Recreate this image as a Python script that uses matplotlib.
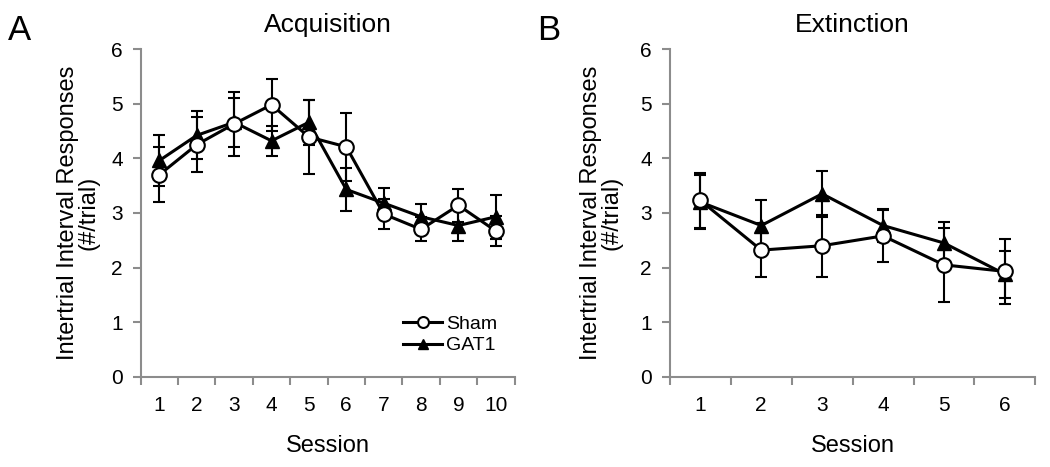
import numpy as np
import matplotlib.pyplot as plt

plt.rcParams['font.family'] = ['Liberation Sans', 'DejaVu Sans']

# Acquisition data
acq_sessions = [1, 2, 3, 4, 5, 6, 7, 8, 9, 10]
acq_sham = [3.70, 4.25, 4.63, 4.98, 4.39, 4.21, 2.98, 2.70, 3.14, 2.67]
acq_sham_err = [0.50, 0.50, 0.58, 0.48, 0.67, 0.62, 0.28, 0.22, 0.30, 0.28]
acq_gat1 = [3.96, 4.42, 4.66, 4.32, 4.66, 3.43, 3.18, 2.93, 2.77, 2.93]
acq_gat1_err = [0.47, 0.44, 0.45, 0.27, 0.41, 0.40, 0.28, 0.23, 0.28, 0.40]

# Extinction data
ext_sessions = [1, 2, 3, 4, 5, 6]
ext_sham = [3.23, 2.32, 2.40, 2.58, 2.05, 1.93]
ext_sham_err = [0.50, 0.49, 0.57, 0.48, 0.68, 0.60]
ext_gat1 = [3.20, 2.77, 3.35, 2.77, 2.45, 1.88]
ext_gat1_err = [0.50, 0.47, 0.42, 0.30, 0.39, 0.43]

GRAY = '#8c8c8c'


def draw_panel(ax, sessions, sham, sham_err, gat1, gat1_err, title, ylab_x):
    x = np.arange(len(sessions))
    g = ax.errorbar(x, gat1, yerr=gat1_err, color='black', lw=2.2, marker='^',
                    ms=10.5, mfc='black', mec='black', capsize=4, capthick=1.5,
                    elinewidth=1.5, label='GAT1', zorder=3)
    s = ax.errorbar(x, sham, yerr=sham_err, color='black', lw=2.2, marker='o',
                    ms=10.5, mfc='white', mec='black', mew=1.5, capsize=4,
                    capthick=1.5, elinewidth=1.5, label='Sham', zorder=4)
    ax.set_xlim(-0.5, len(sessions) - 0.5)
    ax.set_ylim(0, 6)
    ax.set_yticks(range(0, 7))
    ax.set_xticks(x)
    ax.set_xticklabels([str(v) for v in sessions])
    ax.set_xticks(np.arange(len(sessions) + 1) - 0.5, minor=True)
    ax.tick_params(axis='x', which='major', length=0, pad=14, labelsize=15)
    ax.tick_params(axis='x', which='minor', length=6, width=1.5,
                   color=GRAY, direction='out')
    ax.tick_params(axis='y', length=6, width=1.5, color=GRAY,
                   direction='out', labelsize=15, pad=7)
    for side in ['top', 'right']:
        ax.spines[side].set_visible(False)
    for side in ['left', 'bottom']:
        ax.spines[side].set_color(GRAY)
        ax.spines[side].set_linewidth(1.5)
    ax.set_title(title, fontsize=19, pad=12)
    ax.set_xlabel('Session', fontsize=17, labelpad=14)
    ax.set_ylabel('Intertrial Interval Responses\n(#/trial)', fontsize=17,
                  linespacing=0.9)
    ax.yaxis.set_label_coords(ylab_x, 0.5)
    return s, g


fig = plt.figure(figsize=(10.5, 4.67), dpi=100)
ax1 = fig.add_axes([0.134, 0.193, 0.356, 0.702])
ax2 = fig.add_axes([0.638, 0.193, 0.348, 0.702])

sham_h, gat1_h = draw_panel(ax1, acq_sessions, acq_sham, acq_sham_err,
                            acq_gat1, acq_gat1_err, 'Acquisition', -0.11)
draw_panel(ax2, ext_sessions, ext_sham, ext_sham_err, ext_gat1, ext_gat1_err,
           'Extinction', -0.13)

# legend shows only line + marker (no error bars)
ax1.legend([sham_h[0], gat1_h[0]], ['Sham', 'GAT1'], loc='lower right',
           bbox_to_anchor=(1.0, 0.015), frameon=False, fontsize=14,
           handlelength=2.0, handletextpad=0.2, labelspacing=0.2,
           markerscale=0.75)

fig.text(0.008, 0.915, 'A', fontsize=25)
fig.text(0.512, 0.915, 'B', fontsize=25)

fig.savefig('out.png', dpi=100)
